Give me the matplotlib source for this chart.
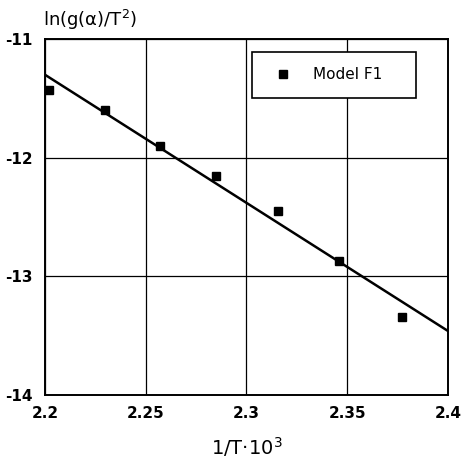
import numpy as np
import matplotlib.pyplot as plt

# data
inv_T = [2.202, 2.230, 2.257, 2.285, 2.3155, 2.346, 2.377]
ln_g = [-11.43, -11.60, -11.905, -12.157, -12.45, -12.87, -13.34]

# fitted line end points
fit_x = [2.2, 2.4]
fit_y = [-11.30, -13.46]

xticks = [2.2, 2.25, 2.3, 2.35, 2.4]
xtick_labels = ["2.2", "2.25", "2.3", "2.35", "2.4"]
yticks = [-14, -13, -12, -11]
ytick_labels = ["-14", "-13", "-12", "-11"]

fig = plt.figure(figsize=(4.62, 4.59), dpi=100)
ax = fig.add_axes([0.097, 0.139, 0.873, 0.776])

ax.plot(fit_x, fit_y, color="black", lw=1.8, zorder=3)
ax.plot(inv_T, ln_g, "s", color="black", markersize=5.5, label="Model F1", zorder=4)

ax.set_xlim(2.2, 2.4)
ax.set_ylim(-14, -11)
ax.set_xticks(xticks)
ax.set_xticklabels(xtick_labels, fontsize=11, fontweight="bold")
ax.set_yticks(yticks)
ax.set_yticklabels(ytick_labels, fontsize=11, fontweight="bold")
ax.tick_params(axis="x", length=0, pad=8)
ax.tick_params(axis="y", length=0, pad=9)
ax.grid(True, color="black", lw=0.9)
for s in ax.spines.values():
    s.set_linewidth(1.4)

ax.text(-0.005, 1.02, "ln(g(α)/T$^2$)", transform=ax.transAxes,
        fontsize=13, ha="left", va="bottom")
ax.set_xlabel("1/T·10$^3$", fontsize=14, labelpad=10)

# legend box stretched to the width seen in the reference
leg = ax.legend(loc="upper left", bbox_to_anchor=(0.514, 0.5, 0.407, 0.463),
                mode="expand", fancybox=False, edgecolor="black", framealpha=1,
                fontsize=11, borderpad=1.0, handlelength=2.0, handletextpad=1.0,
                borderaxespad=0)
leg.get_frame().set_linewidth(1.2)

fig.savefig("out.png", dpi=100)
